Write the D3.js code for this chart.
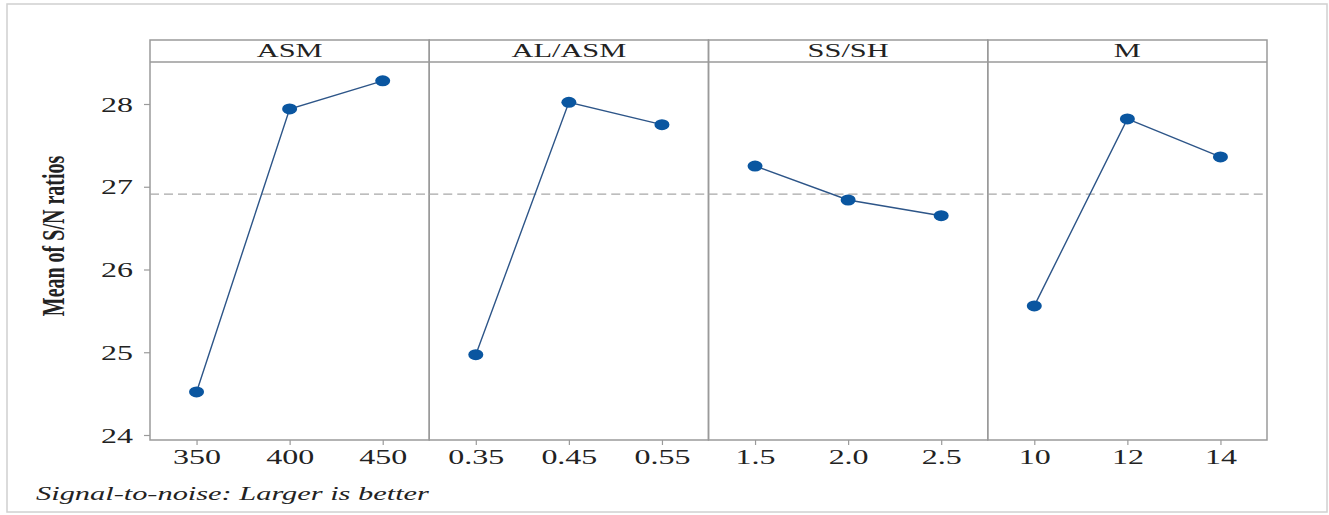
<!DOCTYPE html>
<html><head><meta charset="utf-8">
<script src="https://cdn.jsdelivr.net/npm/d3@7/dist/d3.min.js"></script>
<style>body{margin:0;background:#fff}svg{display:block}text{font-family:"Liberation Serif","Times New Roman",serif;fill:#222}</style>
</head><body><svg id="c" width="1329" height="515"></svg>
<script>
const factors = ["ASM", "AL/ASM", "SS/SH", "M"];
const levels = [["350","400","450"],["0.35","0.45","0.55"],["1.5","2.0","2.5"],["10","12","14"]];
const means = [[24.52,27.94,28.28],[24.97,28.02,27.75],[27.25,26.84,26.65],[25.56,27.82,27.36]];
const yTicks = [24,25,26,27,28];
const overallMean = 26.91;
const yTitle = "Mean of S/N ratios";
const footer = "Signal-to-noise: Larger is better";

const svg = d3.select("#c");
const SX = 1.6;
const L = 150, R = 1267, T = 40, stripB = 62, B = 440;
svg.append("rect").attr("x",7).attr("y",4).attr("width",1320).attr("height",508)
  .attr("fill","none").attr("stroke","#d0d0d0").attr("stroke-width",1.5);

const y = d3.scaleLinear().domain([24,28]).range([435,104]);
const panelX = d3.scaleBand().domain(factors).range([L,R]).paddingInner(0).paddingOuter(0);
const gray = "#9a9a9a";

factors.forEach((f,i)=>{
  const x0 = panelX(f), w = panelX.bandwidth();
  const x = d3.scalePoint().domain(levels[i]).range([x0, x0+w]).padding(0.5);
  const g = svg.append("g");
  g.append("rect").attr("x",x0).attr("y",T).attr("width",w).attr("height",B-T)
    .attr("fill","none").attr("stroke",gray).attr("stroke-width",1.5);
  g.append("line").attr("x1",x0).attr("x2",x0+w).attr("y1",stripB).attr("y2",stripB)
    .attr("stroke",gray).attr("stroke-width",1.5);
  g.append("text").attr("transform",`translate(${x0+w/2},57) scale(${SX},1)`)
    .attr("text-anchor","middle").attr("font-size",19).text(f);
  g.append("line").attr("x1",x0).attr("x2",x0+w).attr("y1",y(overallMean)).attr("y2",y(overallMean))
    .attr("stroke","#a8a8a8").attr("stroke-width",1.2).attr("stroke-dasharray","9,5");
  const ax = svg.append("g").attr("transform",`translate(0,${B})`)
    .call(d3.axisBottom(x).tickSize(5).tickSizeOuter(0).tickPadding(0));
  ax.select(".domain").remove();
  ax.selectAll(".tick line").attr("stroke",gray).attr("stroke-width",1.2);
  ax.selectAll(".tick text").attr("font-size",20).attr("fill","#222")
    .attr("font-family","Liberation Serif").attr("y",24).attr("dy",0)
    .attr("transform",`scale(${SX},1)`);
  const pts = levels[i].map((l,j)=>[x(l), y(means[i][j])]);
  g.append("path").attr("d",d3.line()(pts)).attr("fill","none")
    .attr("stroke","#2d5588").attr("stroke-width",1.4);
  g.selectAll("ellipse").data(pts).join("ellipse")
    .attr("cx",d=>d[0]).attr("cy",d=>d[1]).attr("rx",7.5).attr("ry",5.5).attr("fill","#0a56a0");
});

const ay = svg.append("g").attr("transform",`translate(${L},0)`)
  .call(d3.axisLeft(y).tickValues(yTicks).tickFormat(d3.format("d")).tickSize(6).tickSizeOuter(0));
ay.select(".domain").remove();
ay.selectAll(".tick line").attr("stroke",gray).attr("stroke-width",1.2);
ay.selectAll(".tick text").attr("font-size",20).attr("fill","#222").attr("font-family","Liberation Serif")
  .attr("x",-17/SX).attr("dy","0.35em").attr("transform",`scale(${SX},1)`);

svg.append("text").attr("transform",`translate(64,236) scale(${SX},1) rotate(-90)`)
  .attr("text-anchor","middle").attr("font-size",20).attr("font-weight","bold").text(yTitle);

svg.append("text").attr("transform",`translate(36,500) scale(${SX},1)`)
  .attr("font-size",19).attr("font-style","italic").text(footer);
</script></body></html>
